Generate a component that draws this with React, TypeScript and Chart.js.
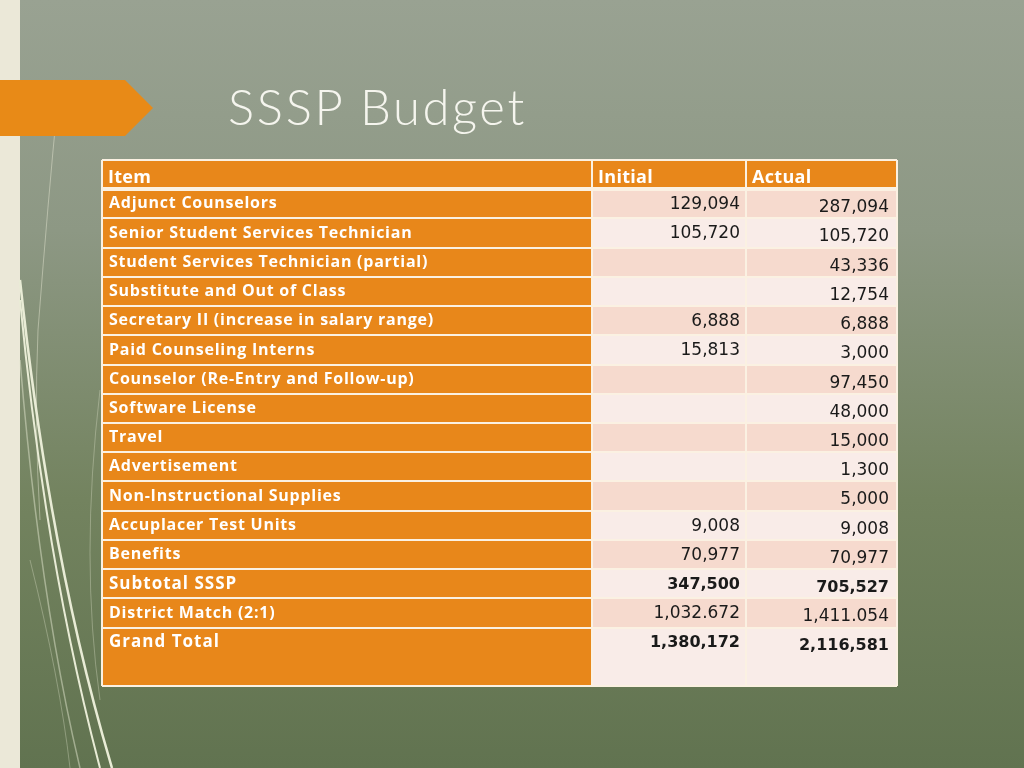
import React, { useEffect, useRef } from "react";
import { Chart, registerables } from "chart.js";

Chart.register(...registerables);

// ---------- data ----------
const columnHeaders = ["Item", "Initial", "Actual"];
const items = [
  "Adjunct Counselors",
  "Senior Student Services Technician",
  "Student Services Technician (partial)",
  "Substitute and Out of Class",
  "Secretary II (increase in salary range)",
  "Paid Counseling Interns",
  "Counselor (Re-Entry and Follow-up)",
  "Software License",
  "Travel",
  "Advertisement",
  "Non-Instructional Supplies",
  "Accuplacer Test Units",
  "Benefits",
  "Subtotal SSSP",
  "District Match (2:1)",
  "Grand Total",
];
const initialValues = [
  "129,094", "105,720", "", "", "6,888", "15,813", "", "", "", "", "", "9,008", "70,977",
  "347,500", "1,032.672", "1,380,172",
];
const actualValues = [
  "287,094", "105,720", "43,336", "12,754", "6,888", "3,000", "97,450", "48,000", "15,000",
  "1,300", "5,000", "9,008", "70,977", "705,527", "1,411.054", "2,116,581",
];
const boldRows = ["Subtotal SSSP", "Grand Total"];

// ---------- layout / style ----------
const COL_EDGES = [0, 490, 644, 795];
const ORANGE = "#e8871a";
const PINK = "#f6dace";
const LIGHT = "#f9ece8";
const LINE = "#fbf1e2";

const rowLabels = [columnHeaders[0], ...items, ""];
const grandIndex = items.length; // row index of the grand total (header is row 0)

function cellColor(col: number, r: number) {
  if (r === 0 || col === 0) return ORANGE;
  if (r >= grandIndex) return LIGHT;
  return r % 2 === 1 ? PINK : LIGHT;
}

const textPlugin = {
  id: "tableText",
  afterDraw(chart: any) {
    const { ctx } = chart;
    const x = chart.scales.x;
    const y = chart.scales.y;
    ctx.save();
    rowLabels.forEach((_, r) => {
      const cy = y.getPixelForValue(r);
      ctx.textBaseline = "middle";
      if (r === 0) {
        ctx.fillStyle = "#ffffff";
        ctx.font = "bold 18px 'Open Sans'";
        ctx.letterSpacing = "0.3px";
        ctx.textAlign = "left";
        columnHeaders.forEach((h, c) => {
          ctx.fillText(h, x.getPixelForValue(COL_EDGES[c]) + 6, cy + 3);
        });
        return;
      }
      if (r > items.length) return;
      const item = items[r - 1];
      const bold = boldRows.includes(item);
      ctx.textAlign = "left";
      ctx.fillStyle = "#ffffff";
      ctx.font = bold ? "bold 17px 'Open Sans'" : "bold 16px 'Open Sans'";
      ctx.letterSpacing = bold ? "1px" : "0.75px";
      ctx.fillText(item, x.getPixelForValue(COL_EDGES[0]) + 7, cy);
      ctx.letterSpacing = "0px";
      ctx.fillStyle = "#1a1a1a";
      ctx.textAlign = "right";
      ctx.font = bold ? "bold 16px 'DejaVu Sans'" : "17px 'DejaVu Sans'";
      const iv = initialValues[r - 1];
      if (iv) ctx.fillText(iv, x.getPixelForValue(COL_EDGES[2]) - 6, cy + 1);
      const av = actualValues[r - 1];
      if (av) ctx.fillText(av, x.getPixelForValue(COL_EDGES[3]) - 8, cy + 4);
    });
    ctx.restore();
  },
};

function TableChart() {
  const ref = useRef<HTMLCanvasElement | null>(null);
  useEffect(() => {
    if (!ref.current) return;
    const chart = new Chart(ref.current, {
      type: "bar",
      data: {
        labels: rowLabels,
        datasets: [0, 1, 2].map((col) => ({
          label: columnHeaders[col],
          data: rowLabels.map(() => [COL_EDGES[col], COL_EDGES[col + 1]]),
          backgroundColor: rowLabels.map((_, r) => cellColor(col, r)),
          grouped: false,
          barPercentage: 1,
          categoryPercentage: 1,
          borderWidth: 0,
        })) as any,
      },
      options: {
        indexAxis: "y",
        animation: false,
        responsive: false,
        layout: { padding: { left: 2, top: 3, right: 3, bottom: 3 } },
        plugins: { legend: { display: false }, tooltip: { enabled: false } },
        scales: {
          x: {
            type: "linear",
            min: COL_EDGES[0],
            max: COL_EDGES[COL_EDGES.length - 1],
            afterBuildTicks: (scale: any) => {
              scale.ticks = COL_EDGES.map((v) => ({ value: v }));
            },
            ticks: { display: false },
            border: { display: false },
            grid: { color: LINE, lineWidth: 2, drawTicks: false, z: 1 },
          },
          y: {
            type: "category",
            ticks: { display: false },
            border: { display: false },
            grid: {
              z: 1,
              offset: true,
              drawTicks: false,
              lineWidth: (c: any) => (c.index === 1 ? 4 : 2),
              color: (c: any) => (c.index === grandIndex + 1 ? "rgba(0,0,0,0)" : LINE),
            },
          },
        },
      } as any,
      plugins: [textPlugin],
    });
    return () => chart.destroy();
  }, []);
  return (
    <canvas
      ref={ref}
      width={800}
      height={532}
      style={{ position: "absolute", left: 100, top: 157, width: 800, height: 532 }}
    />
  );
}

export default function App() {
  return (
    <div
      style={{
        position: "fixed",
        left: 0,
        top: 0,
        width: 1024,
        height: 768,
        overflow: "hidden",
        background: "linear-gradient(180deg, #99a292 0%, #8d9884 30%, #73835f 65%, #617350 100%)",
      }}
    >
      <div style={{ position: "absolute", left: 0, top: 0, width: 20, height: 768, background: "#ebe8d8" }} />
      <svg width={1024} height={768} style={{ position: "absolute", left: 0, top: 0 }}>
        <path d="M58 98 Q48 200 38 330 Q34 420 40 520" stroke="rgba(235,235,215,0.45)" strokeWidth={1} fill="none" />
        <path d="M20 280 Q50 560 112 768" stroke="#e9ecd6" strokeWidth={2.5} fill="none" />
        <path d="M20 300 Q45 560 100 768" stroke="#e9ecd6" strokeWidth={2} fill="none" />
        <path d="M20 360 Q40 600 80 768" stroke="rgba(225,230,205,0.5)" strokeWidth={1.5} fill="none" />
        <path d="M100 390 Q80 560 100 700" stroke="rgba(225,230,205,0.35)" strokeWidth={1} fill="none" />
        <path d="M30 560 Q60 680 70 768" stroke="rgba(225,230,205,0.35)" strokeWidth={1} fill="none" />
        <path d="M0 80 L125 80 L153 108 L125 136 L0 136 Z" fill="#e88a17" />
      </svg>
      <div
        style={{
          position: "absolute",
          left: 228,
          top: 81,
          fontFamily: "Lato, sans-serif",
          fontWeight: 300,
          fontSize: 49,
          lineHeight: "50px",
          letterSpacing: "2.6px",
          color: "#f5f5ee",
          whiteSpace: "nowrap",
        }}
      >
        SSSP Budget
      </div>
      <TableChart />
    </div>
  );
}
